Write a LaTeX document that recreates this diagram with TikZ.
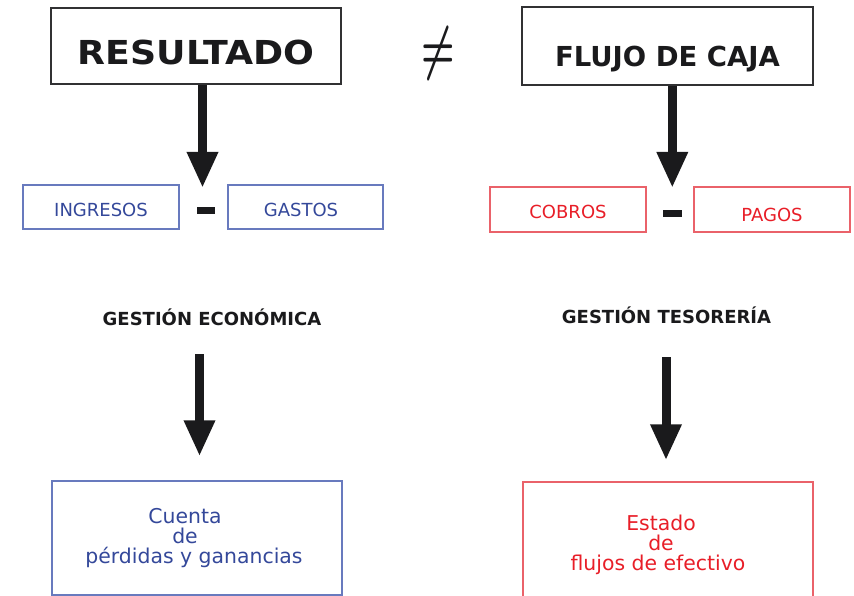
\documentclass[tikz,border=0pt]{standalone}
\usepackage{graphicx}
\usepackage{fontspec}
\setmainfont{DejaVu Sans}
\newfontfamily\widebold[FakeStretch=1.1]{DejaVu Sans}
\usetikzlibrary{arrows.meta}
\definecolor{blueT}{RGB}{52,72,154}
\definecolor{blueB}{RGB}{104,122,190}
\definecolor{redT}{RGB}{232,30,40}
\definecolor{redB}{RGB}{234,98,106}
\definecolor{ink}{RGB}{26,26,28}
\tikzset{
  blackbox/.style={draw=ink!90, line width=1.3pt, inner sep=0pt, text=ink},
  bluebox/.style={draw=blueB, line width=1.3pt, inner sep=0pt, text=blueT},
  redbox/.style={draw=redB, line width=1.3pt, inner sep=0pt, text=redT},
  basedrop/.style={text height=#1pt, text depth=0pt},
  smalltxt/.style={font=\fontsize{18}{18}\selectfont},
  bigtxt/.style={font=\fontsize{20.4}{20}\selectfont, align=center},
  headtxt/.style={font=\bfseries\fontsize{18}{18}\selectfont, text=ink, inner sep=0pt},
  minusbar/.style={fill=ink, inner sep=0pt},
  bigarrow/.style={draw=ink, line width=9pt, -{Triangle[width=29pt,length=36pt]}}
}
\newcommand{\padR}[1]{\rule{#1}{0pt}}
\begin{document}
\begin{tikzpicture}[x=1pt,y=-1pt]
\useasboundingbox (0,0) rectangle (854,596);
\clip (0,0) rectangle (854,596);

% top boxes
\node[blackbox, minimum width=290pt, minimum height=76pt, basedrop=38,
      font=\widebold\bfseries\fontsize{33}{33}\selectfont] (res) at (196,46) {RESULTADO};
\node[blackbox, minimum width=291pt, minimum height=78pt, basedrop=41,
      font=\bfseries\fontsize{27.5}{27.5}\selectfont] (fc) at (667.5,46) {FLUJO DE CAJA};

% not-equal sign
\node[text=ink, inner sep=0pt] (neq) at (438.5,54)
  {\scalebox{3.75}[6]{\boldmath$\neq$}};

% second row
\node[bluebox, smalltxt, minimum width=156pt, minimum height=44pt, basedrop=19] (ing) at (101,207) {INGRESOS};
\node[bluebox, smalltxt, minimum width=155pt, minimum height=44pt, basedrop=19] (gas) at (305.5,207) {GASTOS\padR{9pt}};
\node[minusbar, minimum width=18pt, minimum height=6.5pt] (minL) at (205.8,210.3) {};

\node[redbox, smalltxt, minimum width=156pt, minimum height=45pt, basedrop=17.6] (cob) at (568,209.5) {COBROS};
\node[redbox, smalltxt, minimum width=156pt, minimum height=45pt, basedrop=24.4] (pag) at (772,209.5) {PAGOS};
\node[minusbar, minimum width=19pt, minimum height=7pt] (minR) at (672.3,213.5) {};

% top arrows
\coordinate (t1) at (202.5,188);
\coordinate (t2) at (672.3,188);
\draw[bigarrow] (res.south -| t1) -- (t1);
\draw[bigarrow] (fc.south -| t2) -- (t2);

% headings
\node[headtxt, anchor=base] (econ) at (212,325) {GESTIÓN ECONÓMICA};
\node[headtxt, anchor=base] (teso) at (666.5,323) {GESTIÓN TESORERÍA};

% bottom boxes
\node[bluebox, bigtxt, minimum width=290pt, minimum height=114pt] (pyg) at (197,538)
  {Cuenta\padR{24pt}\\de\padR{24pt}\\pérdidas y ganancias\padR{6pt}};
\node[redbox, bigtxt, minimum width=290pt, minimum height=126pt] (efe) at (668,545)
  {Estado\padR{14pt}\\de\padR{14pt}\\flujos de efectivo\padR{20pt}};

% bottom arrows
\coordinate (s3) at (199.5,354);
\coordinate (s4) at (666,357);
\draw[bigarrow, shorten >=24pt] (s3) -- (s3 |- pyg.north);
\draw[bigarrow, shorten >=21pt] (s4) -- (s4 |- efe.north);
\end{tikzpicture}
\end{document}
